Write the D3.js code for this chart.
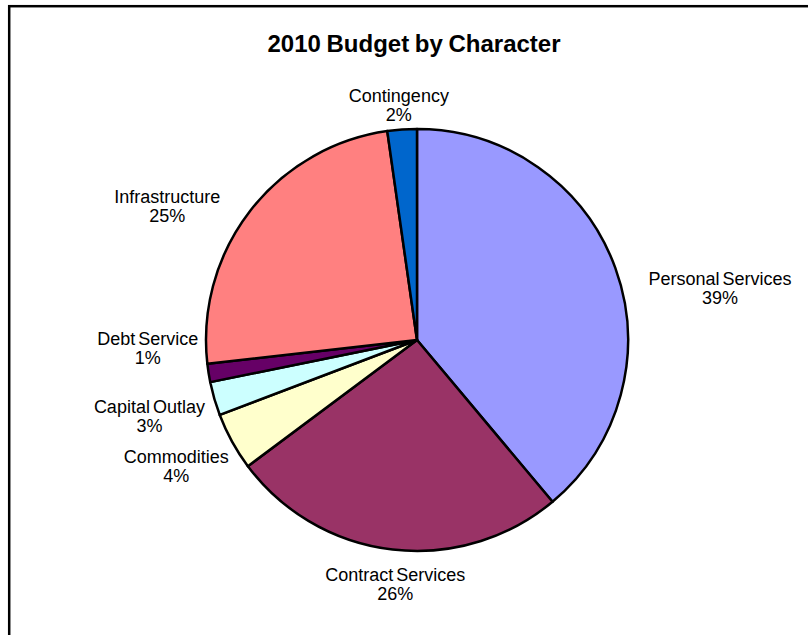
<!DOCTYPE html>
<html>
<head>
<meta charset="utf-8">
<script src="https://cdn.jsdelivr.net/npm/d3@7"></script>
<style>
  html, body { margin: 0; padding: 0; background: #fff; }
  svg { display: block; }
  text { font-family: "Liberation Sans", Arial, sans-serif; fill: #000; }
</style>
</head>
<body>
<svg id="chart" width="808" height="635"></svg>
<script>
// Budget shares by character (percent of total)
const categories = ["Personal Services", "Contract Services", "Commodities", "Capital Outlay", "Debt Service", "Infrastructure", "Contingency"];
const shares = [38.9, 25.9, 4.42, 2.58, 1.4, 24.55, 2.25];
const sliceColors = ["#9999FF", "#993366", "#FFFFCC", "#CCFFFF", "#660066", "#FF8080", "#0066CC"];
const chartTitle = "2010 Budget by Character";

// fine placement of each data label relative to its automatic position
const labelNudge = {
  "Personal Services": [28, 29],
  "Contract Services": [12, 8],
  "Commodities": [-1, 12],
  "Capital Outlay": [-2, 10],
  "Debt Service": [-1, -29],
  "Infrastructure": [-33, 11],
  "Contingency": [1, 1]
};

const W = 808, H = 635;
const cx = 417, cy = 340, R = 211;

const svg = d3.select("#chart");

// white chart area with its frame
svg.append("rect").attr("x", 0).attr("y", 0).attr("width", W).attr("height", H).attr("fill", "#fff");
svg.append("rect")
  .attr("x", 9.2).attr("y", 6.2)
  .attr("width", W + 50).attr("height", H + 50)
  .attr("fill", "none").attr("stroke", "#000").attr("stroke-width", 2.5);

svg.append("text")
  .attr("x", 414).attr("y", 51.7)
  .attr("text-anchor", "middle")
  .style("font-size", "24px").style("font-weight", "bold")
  .style("word-spacing", "-1px")
  .text(chartTitle);

const data = categories.map((c, i) => ({ name: c, value: shares[i], color: sliceColors[i] }));
const total = d3.sum(data, d => d.value);

const pie = d3.pie().sort(null).value(d => d.value).startAngle(0).endAngle(2 * Math.PI);
const arc = d3.arc().innerRadius(0).outerRadius(R);
const arcs = pie(data);

const g = svg.append("g").attr("transform", `translate(${cx},${cy})`);

g.selectAll("path.slice")
  .data(arcs)
  .join("path")
  .attr("class", "slice")
  .attr("d", arc)
  .attr("fill", d => d.data.color)
  .attr("stroke", "#000")
  .attr("stroke-width", 2.5)
  .attr("stroke-linejoin", "round");

// data labels: category name over percentage, placed outside each slice
const halfH = 16, gap = 10, lineH = 18.8;
arcs.forEach(d => {
  const mid = (d.startAngle + d.endAngle) / 2;
  const s = Math.sin(mid), c = Math.cos(mid);
  const t = g.append("text")
    .attr("text-anchor", "middle")
    .style("font-size", "18px")
    .style("word-spacing", "-2px");
  t.append("tspan").text(d.data.name);
  const halfW = t.node().getBBox().width / 2;
  const nudge = labelNudge[d.data.name] || [0, 0];
  const lx = s * (R + gap) + s * halfW + nudge[0];
  const ly = -c * (R + gap) - c * halfH + nudge[1];
  t.select("tspan").attr("x", lx).attr("y", ly - 2.6);
  t.append("tspan")
    .attr("x", lx).attr("y", ly - 2.6 + lineH)
    .text(Math.round(d.data.value / total * 100) + "%");
});
</script>
</body>
</html>
